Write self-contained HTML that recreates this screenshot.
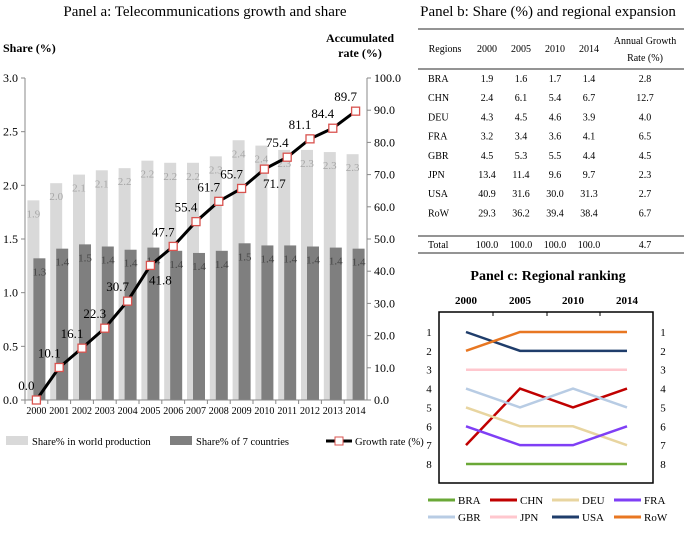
<!DOCTYPE html>
<html><head><meta charset="utf-8"><style>
body{margin:0;background:#fff;width:685px;height:535px;overflow:hidden;font-family:"Liberation Serif",serif}
svg{position:absolute;left:0;top:0}
text{font-family:"Liberation Serif",serif}
</style></head><body>
<svg width="685" height="535">
<g id="pa"></g>
<g id="pb"></g>
<g id="pc"></g>
</svg>
<script>
const years=["2000","2001","2002","2003","2004","2005","2006","2007","2008","2009","2010","2011","2012","2013","2014"];
const worldShare=[1.86,2.02,2.1,2.14,2.16,2.23,2.21,2.21,2.27,2.42,2.37,2.33,2.33,2.31,2.29];
const worldLabels=["1.9","2.0","2.1","2.1","2.2","2.2","2.2","2.2","2.3","2.4","2.4","2.3","2.3","2.3","2.3"];
const sevenShare=[1.32,1.41,1.45,1.43,1.40,1.42,1.39,1.37,1.39,1.46,1.44,1.44,1.43,1.42,1.41];
const sevenLabels=["1.3","1.4","1.5","1.4","1.4","1.4","1.4","1.4","1.4","1.5","1.4","1.4","1.4","1.4","1.4"];
const growth=[0.0,10.1,16.1,22.3,30.7,41.8,47.7,55.4,61.7,65.7,71.7,75.4,81.1,84.4,89.7];
const leftTicks=["0.0","0.5","1.0","1.5","2.0","2.5","3.0"];
const rightTicks=["0.0","10.0","20.0","30.0","40.0","50.0","60.0","70.0","80.0","90.0","100.0"];
const tableRegions=["BRA","CHN","DEU","FRA","GBR","JPN","USA","RoW"];
const tableValues=[["1.9","1.6","1.7","1.4","2.8"],["2.4","6.1","5.4","6.7","12.7"],["4.3","4.5","4.6","3.9","4.0"],["3.2","3.4","3.6","4.1","6.5"],["4.5","5.3","5.5","4.4","4.5"],["13.4","11.4","9.6","9.7","2.3"],["40.9","31.6","30.0","31.3","2.7"],["29.3","36.2","39.4","38.4","6.7"]];
const tableTotal=["100.0","100.0","100.0","100.0","4.7"];
const rankYears=["2000","2005","2010","2014"];
const rankRegions=["BRA","CHN","DEU","FRA","GBR","JPN","USA","RoW"];
const ranks=[[8,8,8,8],[7,4,5,4],[5,6,6,7],[6,7,7,6],[4,5,4,5],[3,3,3,3],[1,2,2,2],[2,1,1,1]];
const rankColors=["#6aa837","#c00000","#e8d5a0","#7f3ff5","#b8cce4","#ffc7ce","#1f3d6b","#e87722"];

const NS="http://www.w3.org/2000/svg";
function mk(p,tag,at,txt){const e=document.createElementNS(NS,tag);for(const k in at)e.setAttribute(k,at[k]);if(txt!==undefined)e.textContent=txt;p.appendChild(e);return e;}

// Panel a
const pa=document.getElementById('pa');
const X0=25,X1=367,Y0=400,Y1=78;
const band=(X1-X0)/years.length;
const xc=i=>X0+band*(i+0.5);
const yL=v=>Y0-(v/3)*(Y0-Y1);
const yR=v=>Y0-(v/100)*(Y0-Y1);
let t=mk(pa,'text',{x:205,y:16,'text-anchor':'middle','font-size':15},'Panel a: Telecommunications growth and share');

t=mk(pa,'text',{x:3,y:52,'font-size':12,'font-weight':'bold'},'Share (%)');

t=mk(pa,'text',{x:360,y:42,'text-anchor':'middle','font-size':12,'font-weight':'bold'},'Accumulated');

mk(pa,'text',{x:360,y:57,'text-anchor':'middle','font-size':12,'font-weight':'bold'},'rate (%)');
worldShare.forEach((v,i)=>{
  const b=mk(pa,'rect',{x:xc(i)-9,y:yL(v),width:12,height:Y0-yL(v),fill:'#d9d9d9'});
  
});
sevenShare.forEach((v,i)=>{
  const b=mk(pa,'rect',{x:xc(i)-3,y:yL(v),width:12,height:Y0-yL(v),fill:'#7f7f7f'});
  
});
worldShare.forEach((v,i)=>{mk(pa,'text',{x:xc(i)-3,y:yL(v)+17,'text-anchor':'middle','font-size':11,fill:'#a6a6a6'},worldLabels[i]);});
sevenShare.forEach((v,i)=>{mk(pa,'text',{x:xc(i)+3,y:yL(v)+17,'text-anchor':'middle','font-size':11,fill:'#444'},sevenLabels[i]);});
let ax=mk(pa,'line',{x1:X0,y1:Y1,x2:X0,y2:Y0,stroke:'#888'});
ax=mk(pa,'line',{x1:X1,y1:Y1,x2:X1,y2:Y0,stroke:'#888'});
ax=mk(pa,'line',{x1:X0,y1:Y0,x2:X1,y2:Y0,stroke:'#888'});
leftTicks.forEach(s=>{const y=yL(parseFloat(s));mk(pa,'line',{x1:X0-4,y1:y,x2:X0,y2:y,stroke:'#888'});mk(pa,'text',{x:X0-7,y:y+4,'text-anchor':'end','font-size':12},s);});
rightTicks.forEach(s=>{const y=yR(parseFloat(s));mk(pa,'line',{x1:X1,y1:y,x2:X1+4,y2:y,stroke:'#888'});mk(pa,'text',{x:X1+7,y:y+4,'font-size':12},s);});
years.forEach((s,i)=>{mk(pa,'line',{x1:X0+band*i,y1:Y0,x2:X0+band*i,y2:Y0+4,stroke:'#888'});mk(pa,'text',{x:xc(i),y:Y0+14,'text-anchor':'middle','font-size':10},s);});
const pl=mk(pa,'polyline',{points:growth.map((v,i)=>xc(i)+','+yR(v)).join(' '),fill:'none',stroke:'#000','stroke-width':3});

growth.forEach((v,i)=>{
  const m=mk(pa,'rect',{x:xc(i)-4,y:yR(v)-4,width:8,height:8,fill:'#fff',stroke:'#d9534f','stroke-width':1.3});
  
  const below=(i===5||i===10);
  mk(pa,'text',{x:below?xc(i)+10:xc(i)-10,y:below?yR(v)+19:yR(v)-10,'text-anchor':'middle','font-size':13},v.toFixed(1));
});
let lg=mk(pa,'g',{});
mk(lg,'rect',{x:6,y:436,width:22,height:9,fill:'#d9d9d9'});mk(lg,'text',{x:32,y:445,'font-size':10.5},'Share% in world production');
lg=mk(pa,'g',{});
mk(lg,'rect',{x:170,y:436,width:22,height:9,fill:'#7f7f7f'});mk(lg,'text',{x:196,y:445,'font-size':10.5},'Share% of 7 countries');
lg=mk(pa,'g',{});
mk(lg,'line',{x1:326,y1:441,x2:352,y2:441,stroke:'#000','stroke-width':3});mk(lg,'rect',{x:335,y:437,width:8,height:8,fill:'#fff',stroke:'#d9534f'});
mk(lg,'text',{x:355,y:445,'font-size':10.5},'Growth rate (%)');

// Panel b
const pb=document.getElementById('pb');
t=mk(pb,'text',{x:548,y:16,'text-anchor':'middle','font-size':15},'Panel b: Share (%) and regional expansion');

const cx=[445,487,521,555,589,645];
mk(pb,'line',{x1:418,y1:29,x2:684,y2:29,stroke:'#555','stroke-width':1.3});
mk(pb,'line',{x1:418,y1:69,x2:684,y2:69,stroke:'#555','stroke-width':1.3});
mk(pb,'line',{x1:418,y1:236,x2:684,y2:236,stroke:'#555','stroke-width':1.3});
mk(pb,'line',{x1:418,y1:253,x2:684,y2:253,stroke:'#555','stroke-width':1.3});
["Regions","2000","2005","2010","2014"].forEach((s,j)=>mk(pb,'text',{x:cx[j],y:52,'text-anchor':'middle','font-size':10},s));
mk(pb,'text',{x:cx[5],y:44,'text-anchor':'middle','font-size':10},'Annual Growth');
mk(pb,'text',{x:cx[5],y:61,'text-anchor':'middle','font-size':10},'Rate (%)');
tableRegions.forEach((r,i)=>{const y=82+i*19.2;
  const row=mk(pb,'g',{});
  mk(row,'text',{x:428,y:y,'font-size':10},r);
  tableValues[i].forEach((v,j)=>mk(row,'text',{x:cx[j+1],y:y,'text-anchor':'middle','font-size':10},v));});
mk(pb,'text',{x:428,y:248,'font-size':10},'Total');
tableTotal.forEach((v,j)=>mk(pb,'text',{x:cx[j+1],y:248,'text-anchor':'middle','font-size':10},v));

// Panel c
const pc=document.getElementById('pc');
t=mk(pc,'text',{x:548,y:280,'text-anchor':'middle','font-size':14,'font-weight':'bold'},'Panel c: Regional ranking');

const CX0=439,CX1=653,CY0=312,CY1=483;
const rx=[466,520,573,627];
const ry=r=>332+(r-1)*(464-332)/7;
const fr=mk(pc,'rect',{x:CX0,y:CY0,width:CX1-CX0,height:CY1-CY0,fill:'none',stroke:'#000','stroke-width':1.5});

rankYears.forEach((s,i)=>mk(pc,'text',{x:rx[i],y:304,'text-anchor':'middle','font-size':11,'font-weight':'bold'},s));
[493,547,600].forEach(x=>mk(pc,'line',{x1:x,y1:CY0,x2:x,y2:CY0+4,stroke:'#000'}));
for(let r=1;r<=8;r++){mk(pc,'text',{x:429,y:ry(r)+4,'text-anchor':'middle','font-size':11},String(r));mk(pc,'text',{x:663,y:ry(r)+4,'text-anchor':'middle','font-size':11},String(r));}
ranks.forEach((rk,k)=>{const l=mk(pc,'polyline',{points:rk.map((r,i)=>rx[i]+','+ry(r)).join(' '),fill:'none',stroke:rankColors[k],'stroke-width':2.5});
  });
rankRegions.forEach((r,k)=>{const col=k%4,row=Math.floor(k/4);const x=428+col*62,y=500+row*17;
  const g=mk(pc,'g',{});
  mk(g,'line',{x1:x,y1:y,x2:x+27,y2:y,stroke:rankColors[k],'stroke-width':3});
  mk(g,'text',{x:x+30,y:y+4,'font-size':11},r);});
</script>
</body></html>
